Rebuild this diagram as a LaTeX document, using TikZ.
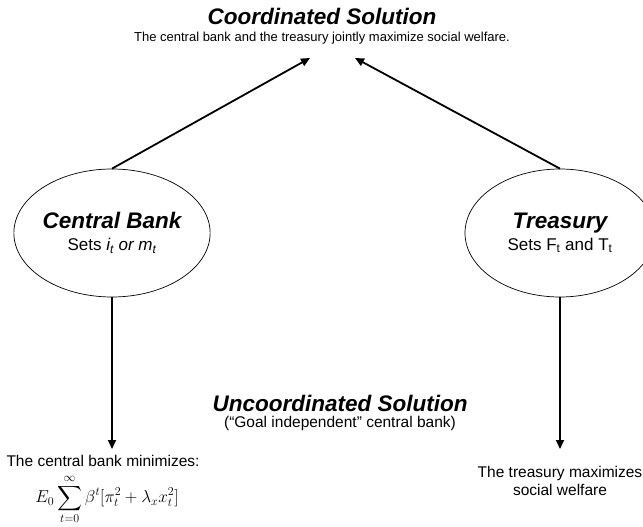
\documentclass[tikz,border=0pt]{standalone}
\usepackage{amsmath}
\usepackage{fontspec}
\setmainfont{Liberation Sans}
\usetikzlibrary{shapes.geometric,arrows.meta}
\newcommand{\headtext}[1]{{\fontsize{22.5}{26}\selectfont\bfseries\itshape #1}}
\tikzset{agent/.style={ellipse, draw, line width=0.7pt, minimum width=190pt, minimum height=128pt, inner sep=0pt, align=center, font=\fontsize{17}{20}\selectfont}}
\tikzset{head/.style={font=\fontsize{22.5}{26}\selectfont\bfseries\itshape, inner sep=0pt}}
\tikzset{note/.style={font=\fontsize{15.5}{18.5}\selectfont, align=center, inner sep=0pt}}
\tikzset{link/.style={line width=1.8pt, -{Triangle[length=9pt,width=8pt]}}}

\begin{document}
\begin{tikzpicture}[x=1pt,y=-1pt]
\useasboundingbox (0,0) rectangle (643,527);
% coordinated case
\node[head] (coord) at (322,16) {Coordinated Solution};
\node[font=\fontsize{13}{15}\selectfont, inner sep=0pt] (coordtxt) at (322,38) {The central bank and the treasury jointly maximize social welfare.};
\coordinate (cbgoal) at (310,58);
\coordinate (trgoal) at (355,58);

% the two players
\node[agent] (cb) at (112,233) {\headtext{Central Bank}\\[2pt] Sets \textit{i\textsubscript{t} or m\textsubscript{t}}};
\node[agent] (tr) at (560,233) {\headtext{Treasury}\\[2pt] Sets F\textsubscript{t} and T\textsubscript{t}};

% uncoordinated case
\node[head] (uncoord) at (340,403) {Uncoordinated Solution};
\node[note] (uncoordtxt) at (340,423) {(“Goal independent” central bank)};

\node[note] (cbobj) at (103,461) {The central bank minimizes:};
\node[font=\fontsize{17}{20}\selectfont, inner sep=0pt, anchor=north] (cbloss) at (107,474) {$\displaystyle E_0\sum_{t=0}^{\infty}\beta^t[\pi_t^2+\lambda_x x_t^2]$};
\node[note] (trobj) at (560,481) {The treasury maximizes\\social welfare};
\coordinate (cbdown) at (112,449);
\coordinate (trdown) at (560,449);

\draw[link] (cb.north) -- (cbgoal);
\draw[link] (tr.north) -- (trgoal);
\draw[link] (cb.south) -- (cbdown);
\draw[link] (tr.south) -- (trdown);
\end{tikzpicture}
\end{document}
